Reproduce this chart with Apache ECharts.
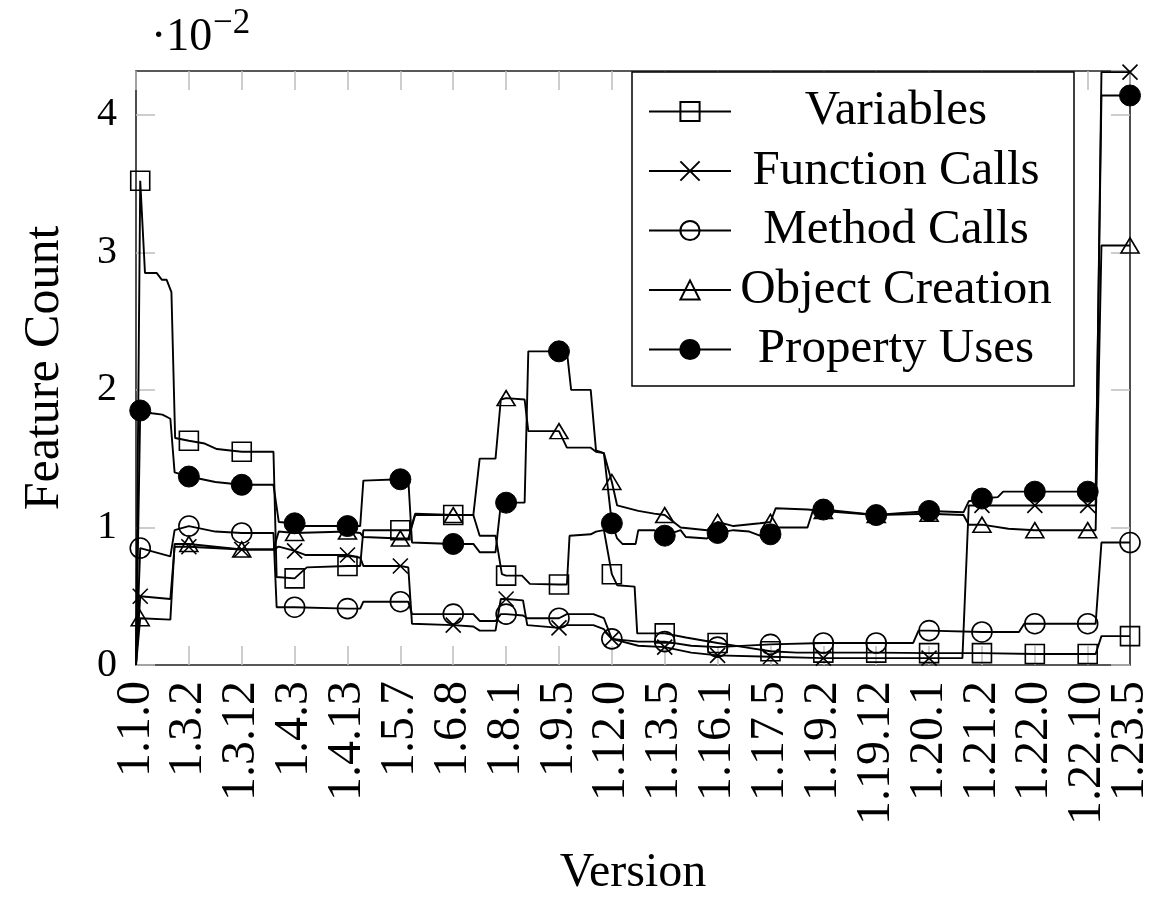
<!DOCTYPE html>
<html>
<head>
<meta charset="utf-8">
<script src="https://cdn.jsdelivr.net/npm/echarts@6/dist/echarts.min.js"></script>
<style>
  html, body { margin: 0; padding: 0; background: #fff; }
  #chart { width: 1165px; height: 902px; }
</style>
</head>
<body>
<div id="chart"></div>
<script>
// ---- tick labels (release index -> version label) ----
const tickIndex = [0, 10, 20, 30, 40, 50, 60, 70, 80, 90, 100, 110, 120, 130, 140, 150, 160, 170, 180, 188];
const tickLabels = ['1.1.0', '1.3.2', '1.3.12', '1.4.3', '1.4.13', '1.5.7', '1.6.8', '1.8.1', '1.9.5', '1.12.0',
  '1.13.5', '1.16.1', '1.17.5', '1.19.2', '1.19.12', '1.20.1', '1.21.2', '1.22.0', '1.22.10', '1.23.5'];
// release indices carrying a marker
const markerIndex = [0.8, 10, 20, 30, 40, 50, 60, 70, 80, 90, 100, 110, 120, 130, 140, 150, 160, 170, 180, 188];

const seriesNames = ['Variables', 'Function Calls', 'Method Calls', 'Object Creation', 'Property Uses'];

// ---- series values: [release index, feature count (x 10^-2)] ----
const variables = [
  [0, 0], [0.8, 3.52], [1.7, 2.85], [3.9, 2.85], [4.9, 2.80], [5.8, 2.80], [6.7, 2.71], [7.4, 1.65], [10, 1.63],
  [13, 1.61], [15.3, 1.57], [20, 1.55], [26, 1.55], [26.6, 0.64], [30, 0.63], [32.3, 0.71], [40, 0.72], [42.4, 0.72],
  [43, 0.98], [50, 0.98], [51.9, 0.98], [52.8, 1.10], [60, 1.09], [63.8, 1.09], [65, 0.94], [68, 0.94], [69.2, 0.66],
  [70, 0.65], [73, 0.65], [74.5, 0.59], [80, 0.585], [81.5, 0.585], [82, 0.94], [86, 0.95], [87, 0.97], [88.5, 0.98],
  [90, 0.66], [91, 0.58], [94.3, 0.57], [94.8, 0.23], [100, 0.23], [104, 0.20], [110, 0.16], [115, 0.13], [120, 0.10],
  [125, 0.09], [130, 0.09], [140, 0.09], [150, 0.086], [160, 0.086], [170, 0.08], [180, 0.08], [181.5, 0.08],
  [182.6, 0.21], [188, 0.21]
];
const functionCalls = [
  [0, 0], [0.8, 0.50], [6.5, 0.48], [7.3, 0.86], [10, 0.86], [20, 0.84], [26, 0.84], [27, 0.86], [30, 0.83],
  [32, 0.80], [40, 0.80], [42.4, 0.78], [43, 0.72], [50, 0.72], [51.5, 0.71], [52.2, 0.30], [60, 0.29], [63.8, 0.28],
  [65, 0.25], [68, 0.25], [69, 0.48], [70, 0.48], [73.2, 0.47], [74, 0.29], [80, 0.27], [81.5, 0.29], [86.5, 0.29],
  [88.5, 0.26], [90, 0.19], [95, 0.14], [100, 0.13], [105, 0.09], [110, 0.07], [120, 0.06], [130, 0.05], [150, 0.05],
  [156.3, 0.05], [157.5, 1.16], [160, 1.16], [170, 1.16], [180, 1.16], [181.5, 1.16], [182.6, 4.31], [188, 4.31]
];
const methodCalls = [
  [0, 0], [0.8, 0.85], [6.5, 0.79], [7.3, 0.98], [10, 1.01], [15, 0.97], [20, 0.96], [26, 0.96], [26.6, 0.42],
  [30, 0.42], [40, 0.41], [42.4, 0.41], [43, 0.46], [50, 0.46], [51.5, 0.46], [52.2, 0.37], [60, 0.37], [63.8, 0.37],
  [65, 0.32], [68, 0.32], [69, 0.37], [70, 0.37], [73.2, 0.36], [74, 0.34], [80, 0.34], [81.5, 0.37], [86.5, 0.37],
  [88.5, 0.34], [90, 0.19], [95, 0.17], [100, 0.17], [105, 0.14], [110, 0.13], [120, 0.15], [130, 0.16], [140, 0.16],
  [147, 0.16], [148, 0.25], [150, 0.25], [160, 0.24], [167, 0.24], [168, 0.30], [170, 0.30], [180, 0.30], [181.5, 0.30],
  [182.6, 0.89], [188, 0.89]
];
const objectCreation = [
  [0, 0], [0.8, 0.34], [6.5, 0.33], [7.3, 0.88], [10, 0.88], [20, 0.84], [26, 0.84], [27, 0.97], [30, 0.96],
  [40, 0.97], [42.4, 0.96], [43, 0.93], [50, 0.92], [51.5, 0.92], [52.8, 1.09], [60, 1.09], [63.8, 1.09], [65, 1.50],
  [68, 1.50], [69, 1.93], [70, 1.94], [73.5, 1.93], [74.2, 1.70], [80, 1.70], [81.5, 1.58], [86, 1.58], [87, 1.55],
  [88.5, 1.54], [90, 1.33], [91, 1.16], [95, 1.12], [98, 1.10], [100, 1.09], [103, 1.00], [108, 0.98], [110, 1.04],
  [113, 1.01], [118, 1.03], [120, 1.04], [121, 1.14], [127, 1.13], [130, 1.12], [140, 1.09], [150, 1.10],
  [156.5, 1.09], [157.5, 1.02], [160, 1.02], [165, 0.99], [170, 0.98], [180, 0.98], [181.5, 0.98], [182.6, 3.05],
  [188, 3.05]
];
const propertyUses = [
  [0, 0], [0.8, 1.85], [3, 1.83], [5, 1.82], [6.5, 1.79], [7.3, 1.40], [10, 1.37], [15, 1.33], [20, 1.31], [26, 1.31],
  [27, 1.04], [30, 1.03], [32, 1.01], [40, 1.01], [42.4, 1.01], [43, 1.34], [50, 1.35], [51.5, 1.35], [52.2, 0.89],
  [60, 0.88], [63.8, 0.88], [65, 0.82], [68, 0.82], [69, 1.17], [70, 1.18], [73.5, 1.18], [74.2, 2.28], [80, 2.28],
  [81.5, 2.28], [82.3, 2.00], [86, 2.00], [87, 1.56], [88.5, 1.54], [90, 1.03], [91, 0.92], [92, 0.88], [94.5, 0.88],
  [95, 0.98], [98, 0.98], [100, 0.94], [103, 0.98], [104, 0.93], [108, 0.92], [110, 0.96], [113, 0.98], [116, 0.97],
  [118, 0.94], [120, 0.95], [121, 1.00], [127, 1.00], [128, 1.12], [130, 1.13], [140, 1.09], [150, 1.12], [156.5, 1.11],
  [157.5, 1.19], [160, 1.21], [163, 1.22], [164, 1.26], [170, 1.26], [180, 1.26], [181.5, 1.26], [182.6, 4.14],
  [188, 4.14]
];

const FONT = 'Liberation Serif';
const LAST = tickIndex[tickIndex.length - 1];
const chart = echarts.init(document.getElementById('chart'), null, { renderer: 'canvas' });

function withMarkers(points) {
  return points.map(p => markerIndex.indexOf(p[0]) >= 0 ? { value: p } : { value: p, symbol: 'none' });
}
function labelFor(v) {
  const k = tickIndex.indexOf(Math.round(v * 100) / 100);
  return k >= 0 ? tickLabels[k] : '';
}

const hollow = { color: 'rgba(0,0,0,0)', borderColor: '#000', borderWidth: 1.6 };
const lineSt = { color: '#000', width: 1.9 };

const styles = [
  { symbol: 'rect', symbolSize: 19, itemStyle: hollow },
  { symbol: 'path://M0,0L10,10M0,10L10,0', symbolSize: 15, itemStyle: hollow },
  { symbol: 'circle', symbolSize: 20, itemStyle: hollow },
  { symbol: 'triangle', symbolSize: [18, 15], itemStyle: hollow },
  { symbol: 'circle', symbolSize: 21, itemStyle: { color: '#000', borderColor: '#000', borderWidth: 1 } }
];
const allData = [variables, functionCalls, methodCalls, objectCreation, propertyUses];

const series = allData.map((d, i) => ({
  name: seriesNames[i],
  type: 'line',
  xAxisIndex: 0,
  yAxisIndex: 0,
  symbol: styles[i].symbol,
  symbolSize: styles[i].symbolSize,
  itemStyle: styles[i].itemStyle,
  lineStyle: lineSt,
  showSymbol: true,
  animation: false,
  data: withMarkers(d)
}));

const tickStyle = { show: true, inside: true, length: 19, lineStyle: { color: '#bdbdbd', width: 1.5 } };
const noLine = { show: false, onZero: false };
const xLabelStyle = { rotate: 90, margin: 16, fontFamily: FONT, fontSize: 48, color: '#000' };

const option = {
  animation: false,
  backgroundColor: '#fff',
  grid: { left: 136, right: 35, top: 71, bottom: 230, show: true, borderColor: '#222', borderWidth: 1.6, backgroundColor: 'transparent' },
  legend: {
    orient: 'vertical',
    left: 632, top: 72,
    itemWidth: 82, itemHeight: 24,
    itemGap: 10.5,
    padding: [15, 18, 12, 16],
    borderColor: '#000', borderWidth: 1.5, backgroundColor: '#fff',
    data: seriesNames,
    formatter: n => '{t|' + n + '}',
    textStyle: {
      fontFamily: FONT, fontSize: 49, color: '#000',
      rich: { t: { width: 320, align: 'center', fontFamily: FONT, fontSize: 49, lineHeight: 48, color: '#000' } }
    }
  },
  xAxis: [{
    type: 'value', min: 0, max: LAST, interval: 10, position: 'bottom',
    name: 'Version', nameLocation: 'middle', nameGap: 184,
    nameTextStyle: { fontFamily: FONT, fontSize: 48, color: '#000' },
    axisLine: noLine,
    axisTick: tickStyle,
    splitLine: { show: false },
    axisLabel: Object.assign({}, xLabelStyle, { showMinLabel: true, showMaxLabel: false, formatter: labelFor })
  }, {
    type: 'value', min: 0, max: LAST, interval: 10, position: 'top',
    axisLine: noLine, axisTick: tickStyle, axisLabel: { show: false }, splitLine: { show: false }
  }, {
    // carries only the label of the last release
    type: 'value', min: 0, max: LAST, interval: LAST, position: 'bottom',
    axisLine: noLine, axisTick: { show: false }, splitLine: { show: false },
    axisLabel: Object.assign({}, xLabelStyle, { showMinLabel: false, showMaxLabel: true,
      formatter: v => (v === LAST ? labelFor(v) : '') })
  }],
  yAxis: [{
    type: 'value', min: 0, max: 4.318, interval: 1, position: 'left',
    name: 'Feature Count', nameLocation: 'middle', nameGap: 66, nameRotate: 90,
    nameTextStyle: { fontFamily: FONT, fontSize: 50, color: '#000' },
    axisLine: noLine,
    axisTick: tickStyle,
    splitLine: { show: false },
    axisLabel: {
      margin: 19, fontFamily: FONT, fontSize: 40, color: '#000', showMaxLabel: false,
      formatter: v => (Math.abs(v - Math.round(v)) < 1e-9 ? String(Math.round(v)) : '')
    }
  }, {
    type: 'value', min: 0, max: 4.318, interval: 1, position: 'right',
    axisLine: noLine, axisTick: tickStyle, axisLabel: { show: false }, splitLine: { show: false }
  }],
  graphic: [
    { type: 'text', left: 151, top: 15, style: { text: '\u00B710', font: '46px "Liberation Serif"', fill: '#000' } },
    { type: 'text', left: 213, top: 6, style: { text: '\u22122', font: '35px "Liberation Serif"', fill: '#000' } }
  ],
  series: series
};
chart.setOption(option);
</script>
</body>
</html>
